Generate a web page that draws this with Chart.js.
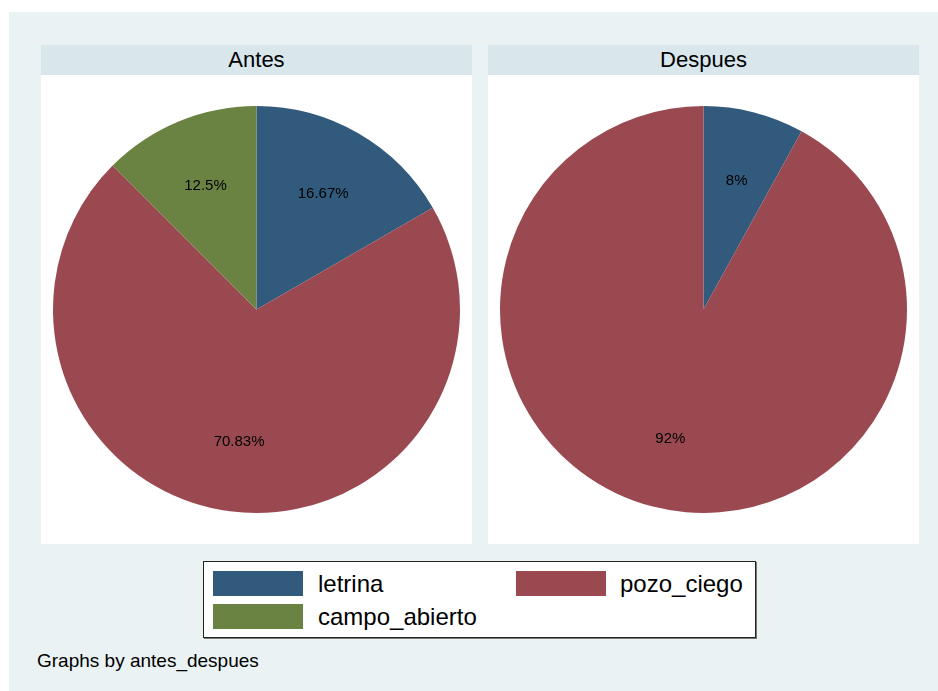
<!DOCTYPE html>
<html>
<head>
<meta charset="utf-8">
<script src="https://cdn.jsdelivr.net/npm/chart.js@4/dist/chart.umd.min.js"></script>
<style>
    body { margin: 0; background: #ffffff; font-family: "Liberation Sans", Arial, sans-serif; }
    #graph { position: absolute; left: 9px; top: 12px; width: 929px; height: 679px; background: #eaf2f3; }
    .head { position: absolute; top: 45px; width: 431px; height: 30px; background: #d9e6eb;
            font-size: 22px; line-height: 30px; text-align: center; color: #000; }
    .plot { position: absolute; top: 75px; width: 431px; height: 469px; background: #ffffff; }
    #legend { position: absolute; left: 203px; top: 561px; width: 551px; height: 75px;
              background: #ffffff; border: 1px solid #222; box-shadow: 1px 1px 0 #777; }
    .item { position: absolute; font-size: 24px; line-height: 25px; color: #000; }
    .swatch { position: absolute; width: 90px; height: 25px; }
    #note { position: absolute; left: 37px; top: 650px; font-size: 19px; color: #000; }
</style>
</head>
<body>
<div id="graph"></div>
<div class="head" style="left:41px" id="head0"></div>
<div class="head" style="left:488px" id="head1"></div>
<div class="plot" style="left:41px"><canvas id="pie0" width="431" height="469"></canvas></div>
<div class="plot" style="left:488px"><canvas id="pie1" width="431" height="469"></canvas></div>
<div id="legend"></div>
<div id="note">Graphs by antes_despues</div>

<script>
// categories and percentages
const categories = ['letrina', 'pozo_ciego', 'campo_abierto'];
const panels = ['Antes', 'Despues'];
const antesValues = [16.67, 70.83, 12.5];
const despuesValues = [8, 92, 0];
const colors = ['#315a7c', '#9b4950', '#6a8342'];

// percent labels placed inside each slice
const sliceLabels = {
    id: 'sliceLabels',
    afterDatasetsDraw(chart) {
        const ctx = chart.ctx;
        const meta = chart.getDatasetMeta(0);
        const values = chart.data.datasets[0].data;
        ctx.save();
        ctx.font = '15px "Liberation Sans", Arial, sans-serif';
        ctx.fillStyle = '#000';
        ctx.textAlign = 'center';
        ctx.textBaseline = 'middle';
        meta.data.forEach(function(arc, i) {
            if (!values[i]) return;
            const p = arc.getProps(['x', 'y', 'startAngle', 'endAngle', 'outerRadius'], true);
            const mid = (p.startAngle + p.endAngle) / 2;
            const r = p.outerRadius * 0.655;
            ctx.fillText(values[i] + '%', p.x + Math.cos(mid) * r, p.y + Math.sin(mid) * r);
        });
        ctx.restore();
    }
};

function drawPie(id, values) {
    new Chart(document.getElementById(id), {
        type: 'pie',
        data: {
            labels: categories,
            datasets: [{
                data: values,
                backgroundColor: colors,
                borderWidth: 0
            }]
        },
        options: {
            responsive: false,
            animation: false,
            layout: { padding: { left: 12, right: 12, top: 0, bottom: 0 } },
            plugins: {
                legend: { display: false },
                tooltip: { enabled: false }
            }
        },
        plugins: [sliceLabels]
    });
}

document.getElementById('head0').textContent = panels[0];
document.getElementById('head1').textContent = panels[1];
drawPie('pie0', antesValues);
drawPie('pie1', despuesValues);

// legend: two columns, left to right
const legend = document.getElementById('legend');
categories.forEach(function(name, i) {
    const col = i % 2, row = Math.floor(i / 2);
    const sw = document.createElement('div');
    sw.className = 'swatch';
    sw.style.left = (9 + col * 303) + 'px';
    sw.style.top = (9 + row * 33) + 'px';
    sw.style.background = colors[i];
    legend.appendChild(sw);
    const txt = document.createElement('div');
    txt.className = 'item';
    txt.style.left = (114 + col * 302) + 'px';
    txt.style.top = (9 + row * 33) + 'px';
    txt.textContent = name;
    legend.appendChild(txt);
});
</script>
</body>
</html>
